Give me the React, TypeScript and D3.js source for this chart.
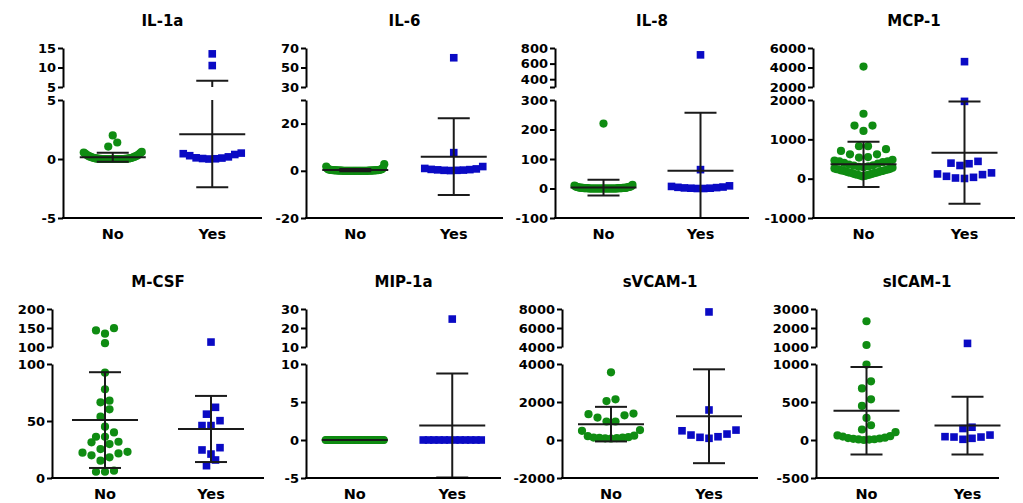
import React, { useEffect, useRef } from "react";
import * as d3 from "d3";

const categories = ["No", "Yes"];
const titles = ["IL-1a", "IL-6", "IL-8", "MCP-1", "M-CSF", "MIP-1a", "sVCAM-1", "sICAM-1"];

// individual values
const il1aNo = [2.0, 1.4, 1.05, 0.6, 0.55, 0.5, 0.45, 0.4, 0.35, 0.3, 0.28, 0.25, 0.22, 0.2, 0.18, 0.15, 0.12, 0.1, 0.1, 0.08, 0.06, 0.05, 0.05, 0.04, 0.03, 0.02, 0.02, 0.01, 0.01, 0, 0, 0, 0, 0, 0, 0, 0, 0, 0, 0, 0, 0, 0, 0, 0];
const il1aYes = [13.5, 10.5, 0.5, 0.45, 0.38, 0.28, 0.18, 0.1, 0.04, 0, 0.02, 0.08];
const il6No = [2.8, 1.8, 1.2, 0.9, 0.7, 0.6, 0.5, 0.4, 0.4, 0.4, 0.3, 0.3, 0.3, 0.3, 0.2, 0.2, 0.2, 0.2, 0.2, 0.2, 0.1, 0.1, 0.1, 0.1, 0.1, 0.1, 0.1, 0.1, 0, 0, 0, 0, 0, 0, 0, 0, 0, 0, 0, 0, 0, 0, 0, 0, 0, 0, 0, 0, 0, 0];
const il6Yes = [60, 7.7, 1.8, 1.0, 0.8, 0.6, 0.5, 0.4, 0.3, 0.2, 0.2, 0.1];
const il8No = [220, 12, 10, 8, 7, 6, 5, 5, 4, 4, 3, 3, 3, 2, 2, 2, 2, 2, 1, 1, 1, 1, 1, 1, 1, 1, 0, 0, 0, 0, 0, 0, 0, 0, 0, 0, 0, 0, 0, 0, 0, 0, 0, 0, 0, 0, 0, 0, 0, 0];
const il8Yes = [712, 64, 9, 7, 5, 3, 2, 1, 0, 0, 1, 4];
const mcp1No = [4100, 1650, 1350, 1350, 1215, 827, 827, 750, 705, 620, 620, 550, 535, 480, 460, 440, 440, 420, 400, 380, 360, 340, 330, 310, 300, 290, 280, 260, 250, 240, 235, 230, 220, 210, 200, 200, 190, 180, 170, 160, 150, 150, 140, 130, 120, 110, 100, 100, 90, 80, 70, 60];
const mcp1Yes = [4600, 1965, 440, 380, 335, 395, 147, 103, 34, 5, 17, 60, 120];
const mcsfNo = [149.5, 143.6, 135, 110, 92.4, 77.8, 67.8, 66.4, 60.2, 53.8, 45, 40, 36.2, 36.2, 31.8, 31.3, 29.8, 25.4, 23, 22.2, 21.6, 19.9, 18.1, 15.2, 6.4, 5.5, 5.5];
const mcsfYes = [113, 62, 56, 50.3, 46, 46, 26.6, 24.6, 21, 15.8, 10.8];
const mip1aNo = [0, 0, 0, 0, 0, 0, 0, 0, 0, 0, 0, 0, 0, 0, 0, 0, 0, 0, 0, 0, 0, 0, 0, 0, 0, 0, 0, 0, 0, 0, 0, 0, 0, 0, 0, 0, 0, 0, 0, 0, 0, 0, 0, 0, 0, 0, 0, 0, 0, 0];
const mip1aYes = [24.7, 0, 0, 0, 0, 0, 0, 0, 0, 0, 0, 0, 0];
const svcamNo = [3563, 2140, 2050, 1390, 1360, 1300, 1180, 975, 975, 520, 485, 230, 200, 150, 120, 100, 80, 90, 110, 130];
const svcamYes = [7690, 1580, 522, 485, 313, 261, 172, 141, 89];
const sicamNo = [2356, 1106, 992, 772, 678, 535, 449, 290, 194, 138, 103, 60, 50, 45, 30, 25, 20, 15, 10, 8, 5, 0];
const sicamYes = [1190, 168, 151, 65, 44, 39, 39, 22, 9];

const groups = [
  [il1aNo, il1aYes], [il6No, il6Yes], [il8No, il8Yes], [mcp1No, mcp1Yes],
  [mcsfNo, mcsfYes], [mip1aNo, mip1aYes], [svcamNo, svcamYes], [sicamNo, sicamYes],
];

// mean and SD bars as drawn
const means = [[0.15, 2.1], [0.3, 6.0], [3, 60], [365, 660], [50.8, 43], [0, 1.9], [835, 1250], [385, 190]];
const sds = [[0.38, 4.5], [0.5, 16.3], [27, 197], [575, 1300], [42, 29], [0, 6.85], [910, 2470], [575, 380]];

// broken y axes: lower part and upper part
const lowerDomains = [[-5, 5], [-20, 30], [-100, 300], [-1000, 2000], [0, 100], [-5, 10], [-2000, 4000], [-500, 1000]];
const lowerTicks = [[-5, 0, 5], [-20, 0, 20, 30], [-100, 0, 100, 200, 300], [-1000, 0, 1000, 2000], [0, 50, 100], [-5, 0, 5, 10], [-2000, 0, 2000, 4000], [-500, 0, 500, 1000]];
const lowerLabels = [["-5", "0", "5"], ["-20", "0", "20", ""], ["-100", "0", "100", "200", "300"], ["-1000", "0", "1000", "2000"], ["0", "50", "100"], ["-5", "0", "5", "10"], ["-2000", "0", "2000", "4000"], ["-500", "0", "500", "1000"]];
const upperDomains = [[5, 15], [30, 70], [300, 800], [2000, 6000], [100, 200], [10, 30], [4000, 8000], [1000, 3000]];
const upperTicks = [[5, 10, 15], [30, 50, 70], [300, 400, 600, 800], [2000, 4000, 6000], [100, 150, 200], [10, 20, 30], [4000, 6000, 8000], [1000, 2000, 3000]];
const upperLabels = [["5", "10", "15"], ["30", "50", "70"], ["", "400", "600", "800"], ["2000", "4000", "6000"], ["100", "150", "200"], ["10", "20", "30"], ["4000", "6000", "8000"], ["1000", "2000", "3000"]];

// layout
const rows = [
  { upperTop: 48, upperBottom: 87, lowerTop: 100, lowerBottom: 218 },
  { upperTop: 309, upperBottom: 347, lowerTop: 364, lowerBottom: 478 },
];
const axisXs = [63, 306, 555, 813, 52, 306, 562, 816];
const lineEnds = [262, 503, 749, 1015, 264, 501, 758, 999];
const scaleEnds = [262, 503, 749, 1015, 264, 501, 758, 1018];

const GREEN = "#0f8c12";
const BLUE = "#0a0ac4";
const FONT = "'DejaVu Sans', 'Liberation Sans', Arial, sans-serif";
const ROW_GAP = 9;
const STEP = 9;
const MAXW = 58;

// GraphPad-like scatter: points within one "row" are spread left/right, lowest in the middle
function swarm(vals: number[], yOf: (v: number) => number, cx: number) {
  const pts = vals.map((v) => ({ v, y: yOf(v) })).sort((a, b) => b.y - a.y);
  const rs: { y0: number; items: { v: number; y: number }[] }[] = [];
  let cur: any = null;
  for (const p of pts) {
    if (!cur || cur.y0 - p.y > ROW_GAP) {
      cur = { y0: p.y, items: [] };
      rs.push(cur);
    }
    cur.items.push(p);
  }
  const out: { x: number; y: number }[] = [];
  rs.forEach((r) => {
    const n = r.items.length;
    const step = n > 1 ? Math.min(STEP, MAXW / (n - 1)) : 0;
    const slots = d3.range(n).map((i) => (i - (n - 1) / 2) * step);
    slots.sort((a, b) => Math.abs(a) - Math.abs(b) || a - b);
    r.items.forEach((p, i) => out.push({ x: cx + slots[i], y: p.y }));
  });
  return out;
}

export default function App() {
  const ref = useRef<SVGSVGElement>(null);

  useEffect(() => {
    document.body.style.margin = "0";
    const svg = d3.select(ref.current);
    svg.selectAll("*").remove();
    svg.append("rect").attr("width", 1023).attr("height", 503).attr("fill", "white");

    titles.forEach((title, i) => {
      const r = rows[Math.floor(i / 4)];
      const g = svg.append("g");
      const ax = axisXs[i];

      const yLow = d3.scaleLinear().domain(lowerDomains[i]).range([r.lowerBottom, r.lowerTop]);
      const yUp = d3.scaleLinear().domain(upperDomains[i]).range([r.upperBottom, r.upperTop]);
      const lowMax = lowerDomains[i][1];
      const yOf = (v: number) => (v <= lowMax ? yLow(v) : yUp(v));

      const x = d3.scalePoint().domain(categories).range([ax, scaleEnds[i]]).padding(0.5);

      // title
      g.append("text")
        .attr("x", ((x("No") as number) + (x("Yes") as number)) / 2)
        .attr("y", r.upperTop - 22)
        .attr("text-anchor", "middle")
        .style("font-family", FONT)
        .style("font-weight", "bold")
        .style("font-size", "15px")
        .text(title);

      // points
      categories.forEach((c, k) => {
        const pts = swarm(groups[i][k], yOf, x(c) as number);
        if (k === 0) {
          g.selectAll(null).data(pts).enter().append("circle")
            .attr("cx", (d) => d.x).attr("cy", (d) => d.y).attr("r", 4.1)
            .attr("fill", GREEN);
        } else {
          g.selectAll(null).data(pts).enter().append("rect")
            .attr("x", (d) => d.x - 3.8).attr("y", (d) => d.y - 3.8)
            .attr("width", 7.6).attr("height", 7.6)
            .attr("fill", BLUE);
        }
      });

      // mean +/- SD
      categories.forEach((c, k) => {
        const cx = x(c) as number;
        const m = means[i][k];
        const s = sds[i][k];
        const lo = m - s;
        const hi = m + s;
        const dmin = lowerDomains[i][0];
        const upMin = upperDomains[i][0];
        const upMax = upperDomains[i][1];
        const bar = g.append("g").attr("stroke", "#1a1a1a").attr("stroke-width", 2);
        bar.append("line").attr("x1", cx - 33).attr("x2", cx + 33).attr("y1", yOf(m)).attr("y2", yOf(m));
        bar.append("line").attr("x1", cx).attr("x2", cx)
          .attr("y1", yLow(Math.max(lo, dmin))).attr("y2", yLow(Math.min(hi, lowMax)));
        if (hi > lowMax) {
          bar.append("line").attr("x1", cx).attr("x2", cx)
            .attr("y1", yUp(upMin)).attr("y2", yUp(Math.min(hi, upMax)));
        }
        if (lo >= dmin) {
          bar.append("line").attr("x1", cx - 16).attr("x2", cx + 16).attr("y1", yLow(lo)).attr("y2", yLow(lo));
        }
        bar.append("line").attr("x1", cx - 16).attr("x2", cx + 16).attr("y1", yOf(hi)).attr("y2", yOf(hi));
      });

      // y axes
      const styleAxis = (sel: any) => {
        sel.selectAll("path").attr("stroke", "black").attr("stroke-width", 2);
        sel.selectAll("line").attr("stroke", "black").attr("stroke-width", 2);
        sel.selectAll("text")
          .style("font-family", FONT)
          .style("font-weight", "bold")
          .style("font-size", "13px")
          .attr("fill", "black");
      };
      const lowAxis = g.append("g").attr("transform", `translate(${ax},0)`)
        .call(d3.axisLeft(yLow).tickValues(lowerTicks[i]).tickSize(5).tickSizeOuter(0).tickPadding(2)
          .tickFormat((_d, j) => lowerLabels[i][j]));
      styleAxis(lowAxis);
      const upAxis = g.append("g").attr("transform", `translate(${ax},0)`)
        .call(d3.axisLeft(yUp).tickValues(upperTicks[i]).tickSize(5).tickSizeOuter(0).tickPadding(2)
          .tickFormat((_d, j) => upperLabels[i][j]));
      styleAxis(upAxis);

      // x axis
      g.append("line")
        .attr("x1", ax - 1).attr("x2", lineEnds[i])
        .attr("y1", r.lowerBottom).attr("y2", r.lowerBottom)
        .attr("stroke", "black").attr("stroke-width", 2);
      categories.forEach((c) => {
        g.append("text")
          .attr("x", x(c) as number)
          .attr("y", r.lowerBottom + 21)
          .attr("text-anchor", "middle")
          .style("font-family", FONT)
          .style("font-weight", "bold")
          .style("font-size", "14.5px")
          .text(c);
      });
    });
  }, []);

  return <svg ref={ref} width={1023} height={503} style={{ display: "block" }} />;
}
